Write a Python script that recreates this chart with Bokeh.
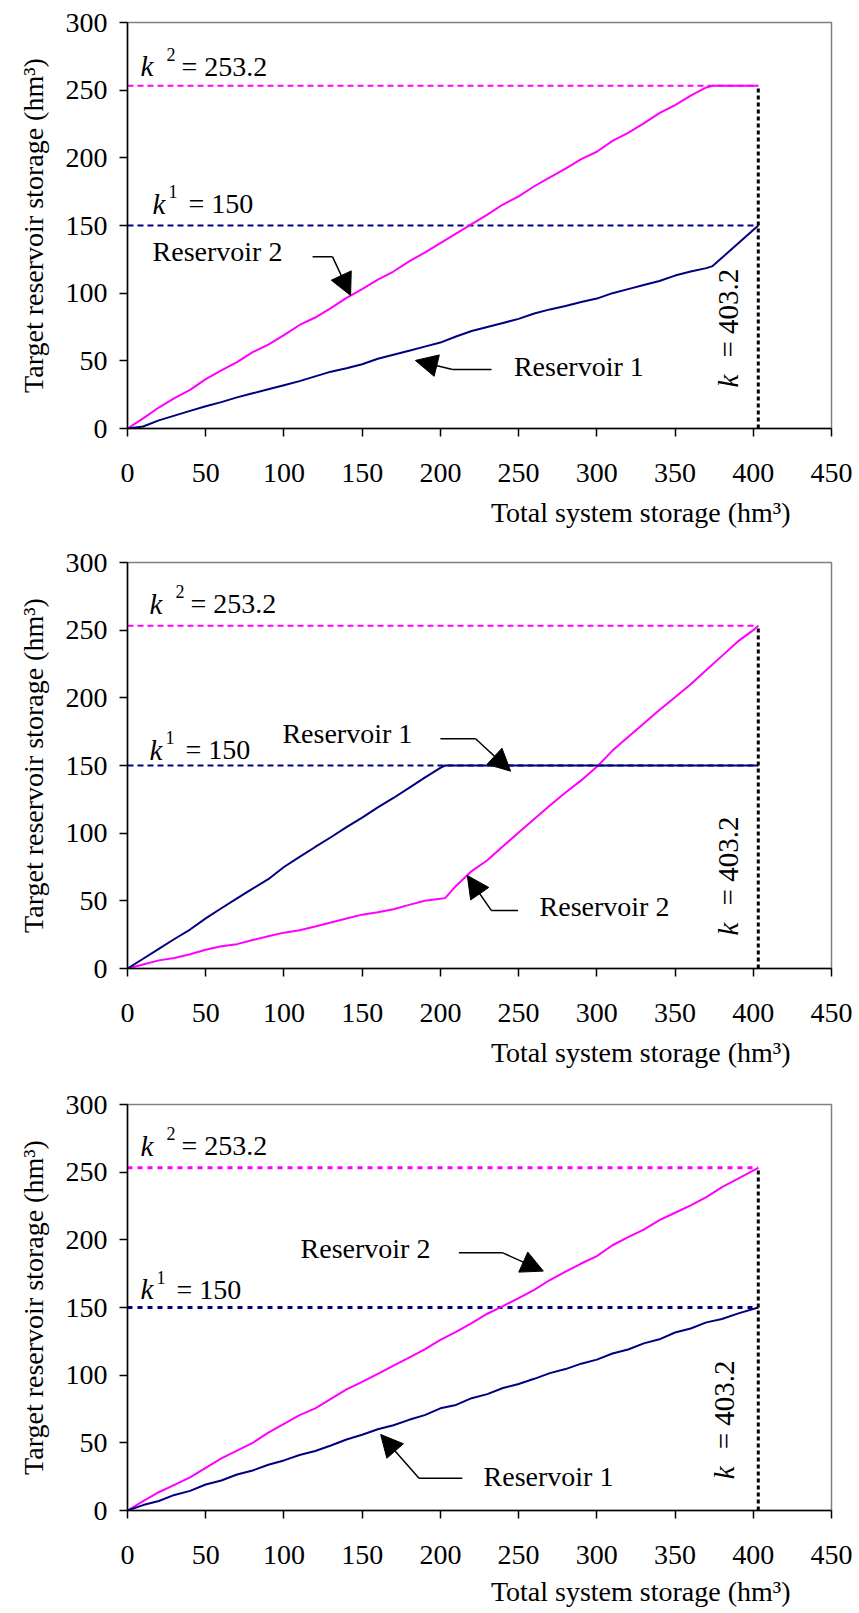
import math
from bokeh.plotting import figure
from bokeh.layouts import column
from bokeh.models import Range1d, FixedTicker, Arrow, NormalHead, Label, Title
from bokeh.embed import file_html
from bokeh.resources import INLINE

# ---------------- data ----------------
K1 = 150.0
K2 = 253.2
K_TOTAL = 403.2

x_ticks = [0, 50, 100, 150, 200, 250, 300, 350, 400, 450]
y_ticks = [0, 50, 100, 150, 200, 250, 300]

# Panel 1
p1_x = [0, 10, 20, 30, 40, 50, 60, 70, 80, 90, 100, 110, 120, 130, 140, 150, 160, 170, 180, 190,
        200, 210, 220, 230, 240, 250, 260, 270, 280, 290, 300, 310, 320, 330, 340, 350, 360, 370,
        374, 403.2]
p1_res1 = [0, 1.5, 6, 9.5, 13, 16.5, 19.5, 23, 26, 29, 32, 35, 38.5, 42, 44.5, 47.5, 51.5, 54.5, 57.5, 60.5,
           63.5, 68, 72, 75, 78, 81, 85, 88, 90.5, 93.5, 96, 100, 103, 106, 109, 113, 116, 118.5,
           120, 150]
p1_res2 = [0, 7.5, 15.5, 22.5, 28.5, 36.5, 43, 49, 56.4, 62, 69, 76.5, 82, 89, 96.5, 103, 110, 116, 123.5, 130,
           137, 144, 151, 158, 165.5, 171.5, 179, 185.5, 192, 199, 204.5, 212.5, 218.5, 225.5, 233, 239, 246, 252,
           253.2, 253.2]

# Panel 2
p2_x = [0, 10, 20, 30, 40, 50, 60, 70, 80, 90, 100, 110, 120, 130, 140, 150, 160, 170, 180, 190, 200,
        203, 210, 220, 230, 240, 250, 260, 270, 280, 290, 300, 310, 320, 330, 340, 350, 360, 370, 380, 390, 400,
        403.2]
p2_res1 = [0, 7.2, 14.5, 21.8, 28.8, 37, 44.5, 51.8, 59, 66, 75, 82.5, 89.8, 97, 104.5, 111.5, 119, 126, 133.5, 141, 148.3,
           150, 150, 150, 150, 150, 150, 150, 150, 150, 150, 150, 150, 150, 150, 150, 150, 150, 150, 150, 150, 150,
           150]
p2_res2 = [0, 3, 6, 7.8, 10.5, 13.8, 16.5, 18, 21, 23.8, 26.5, 28.2, 31, 34, 37, 39.8, 41.5, 43.8, 47, 50, 51.5,
           52, 61, 72, 80, 90.3, 100.5, 110.5, 120.5, 130, 139, 149, 161, 171, 181, 191, 200.5, 210, 220.5, 231, 241.5, 250,
           253.2]

# Panel 3
p3_x = [0, 10, 20, 30, 40, 50, 60, 70, 80, 90, 100, 110, 120, 130, 140, 150, 160, 170, 180, 190,
        200, 210, 220, 230, 240, 250, 260, 270, 280, 290, 300, 310, 320, 330, 340, 350, 360, 370, 380, 390,
        403.2]
p3_res1 = [0, 4, 7, 11.5, 14.5, 19.2, 22.2, 26.6, 29.6, 33.8, 37, 41, 44, 48, 52.5, 56, 60, 63, 67, 70.5,
           75.5, 78, 83, 86, 90.5, 93.5, 97.3, 101.5, 104.5, 108.5, 111.5, 116, 119, 123.5, 126.5, 131.5, 134.5, 139, 141.5, 145.5,
           150]
p3_res2 = [0, 7, 13.5, 19, 24.5, 31.5, 38.5, 44.3, 50, 57.5, 64, 70.5, 75.5, 82.5, 89.5, 95, 101, 107, 113, 119,
           126, 132, 138.5, 145.4, 151, 157, 163, 170.3, 176.5, 182.5, 188, 196, 202, 207.5, 214.5, 220, 225.5, 231.5, 239, 245,
           253.2]

# annotation anchors (data units, text baselines)
k2_pos = [(8.3, 261), (14, 263), (8.3, 263)]
k1_pos = [(16, 159.6), (14, 155), (8.3, 156.7)]
ktot_pos = [(384, 30.3), (384, 24.4), (381, 23)]

# (text, x, y) for series names
name_labels = [
    [("Reservoir 2", 16, 124), ("Reservoir 1", 247, 39)],
    [("Reservoir 1", 99, 167), ("Reservoir 2", 263.4, 39)],
    [("Reservoir 2", 110.6, 187), ("Reservoir 1", 227.6, 18.5)],
]
# arrows: (start, bend, tip)
arrows = [
    [((118.3, 127), (131, 127), (142.6, 98.3)), ((232.7, 43.6), (207.8, 43.6), (184, 50.3))],
    [((200, 169.8), (222.5, 169.8), (244.9, 145.8)), ((249.6, 42.9), (232.5, 42.9), (217.2, 68.7))],
    [((211.8, 190.5), (239.6, 190.5), (265.8, 176.9)), ((214, 23.9), (186.3, 23.9), (161.8, 56.2))],
]

panels = [(p1_x, p1_res1, p1_res2), (p2_x, p2_res1, p2_res2), (p3_x, p3_res1, p3_res2)]

# ---------------- style ----------------
FONT = "Liberation Serif"
MAGENTA = "#FF00FF"
NAVY = "#000080"
heights = [548, 542, 523]
borders_top = [22, 14, 14]
borders_bottom = [120, 122, 103]
title_standoff = [20, 20, 14]
dashes = ["6 4", "6 4", "5 5"]
dash_w = [2, 2, 3]
BASE_DY = 9


def add_text(p, x, y, text, dx=0, dy=0, size="28px", style="normal", angle=0.0,
             align="left", baseline="alphabetic"):
    p.add_layout(Label(x=x, y=y, x_offset=dx, y_offset=dy, text=text, text_font=FONT,
                       text_font_size=size, text_font_style=style, angle=angle,
                       text_align=align, text_baseline=baseline, text_color="black"))


figs = []
for i, (xs, r1, r2) in enumerate(panels):
    p = figure(width=855, height=heights[i], x_range=Range1d(0, 450), y_range=Range1d(0, 300),
               output_backend="svg", toolbar_location=None,
               min_border_left=127, min_border_right=24, min_border_top=borders_top[i],
               min_border_bottom=borders_bottom[i])
    p.xgrid.grid_line_color = None
    p.ygrid.grid_line_color = None
    p.outline_line_color = "#808080"
    p.outline_line_width = 1.5
    p.background_fill_color = "white"
    p.border_fill_color = "white"

    p.xaxis.ticker = FixedTicker(ticks=x_ticks)
    p.yaxis.ticker = FixedTicker(ticks=y_ticks)
    for ax in (p.xaxis, p.yaxis):
        ax.axis_line_color = "black"
        ax.axis_line_width = 1.5
        ax.major_tick_line_color = "black"
        ax.major_tick_line_width = 1.5
        ax.major_tick_out = 8
        ax.major_tick_in = 0
        ax.minor_tick_line_color = None
        ax.major_label_text_font = FONT
        ax.major_label_text_font_size = "28px"
        ax.major_label_text_color = "black"
    p.xaxis.major_label_standoff = 27
    p.yaxis.major_label_standoff = 12
    p.yaxis.axis_label = "Target reservoir storage (hm³)"
    p.yaxis.axis_label_text_font = FONT
    p.yaxis.axis_label_text_font_size = "28px"
    p.yaxis.axis_label_text_font_style = "normal"
    p.yaxis.axis_label_text_color = "black"
    p.yaxis.axis_label_standoff = 14

    p.add_layout(Title(text="Total system storage (hm³)", align="right", offset=41,
                       text_font=FONT, text_font_size="28px", text_font_style="normal",
                       text_color="black", standoff=title_standoff[i]), "below")

    # reference lines
    p.line([0, K_TOTAL], [K2, K2], line_color=MAGENTA, line_width=dash_w[i], line_dash=dashes[i])
    p.line([0, K_TOTAL], [K1, K1], line_color=NAVY, line_width=dash_w[i], line_dash=dashes[i])

    # series
    p.line(xs, r2, line_color=MAGENTA, line_width=2)
    p.line(xs, r1, line_color=NAVY, line_width=2)

    p.line([K_TOTAL, K_TOTAL], [0, K2], line_color="black", line_width=3, line_dash="4 3")

    # k labels
    kx, ky = k2_pos[i]
    add_text(p, kx, ky, "k", dy=BASE_DY, style="italic", size="29px")
    add_text(p, kx, ky, "2", dx=26, dy=BASE_DY + 12, size="18px")
    add_text(p, kx, ky, "= 253.2", dx=41, dy=BASE_DY)
    kx, ky = k1_pos[i]
    add_text(p, kx, ky, "k", dy=BASE_DY, style="italic", size="29px")
    add_text(p, kx, ky, "1", dx=16, dy=BASE_DY + 12, size="18px")
    add_text(p, kx, ky, "= 150", dx=36, dy=BASE_DY)
    kx, ky = ktot_pos[i]
    add_text(p, kx, ky, "k", style="italic", size="29px", angle=math.pi / 2, baseline="middle")
    add_text(p, kx, ky, "= 403.2", dy=30, size="29px", angle=math.pi / 2, baseline="middle")

    for (txt, tx, ty) in name_labels[i]:
        add_text(p, tx, ty, txt, dy=BASE_DY)

    for (s, b, t) in arrows[i]:
        p.line([s[0], b[0]], [s[1], b[1]], line_color="black", line_width=1.5)
        p.add_layout(Arrow(end=NormalHead(size=22, fill_color="black", line_color="black"),
                           x_start=b[0], y_start=b[1], x_end=t[0], y_end=t[1],
                           line_color="black", line_width=1.5))
    figs.append(p)

layout = column(*figs)
open("out.html", "w").write(file_html(layout, INLINE))
